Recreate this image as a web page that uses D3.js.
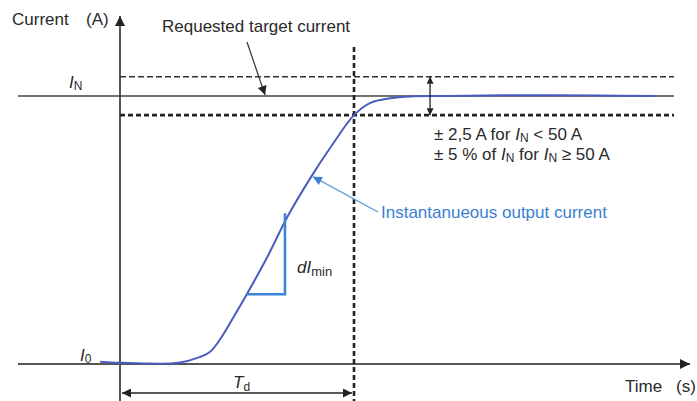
<!DOCTYPE html>
<html>
<head>
<meta charset="utf-8">
<script src="https://cdn.jsdelivr.net/npm/d3@7"></script>
<style>
  body { margin: 0; background: #fff; }
  text { font-family: "Liberation Sans", Arial, sans-serif; fill: #2a2a2a; }
</style>
</head>
<body>
<div id="chart"></div>
<script>
var svgWidth = 697;
var svgHeight = 401;

// step response, time in ms (T_d = 200 ms), current in A
var times = [-17, 0, 25, 50, 68, 77, 85, 97, 108, 126, 143, 164, 180, 200, 214, 231, 248, 282, 342, 410, 457];
var currents = [0.3, 0.15, 0.05, 0.15, 0.9, 1.6, 3.1, 6.1, 9.0, 14.0, 19.2, 24.6, 28.3, 32.5, 34.1, 34.7, 34.95, 35.0, 35.1, 35.05, 35.0];

var iStart = 0;       // I_0
var iTarget = 35;     // I_N
var tolerance = 2.5;  // +/- band
var delayTime = 200;  // T_d

// slope triangle for dI_min
var slopeTimes = [108, 141];
var slopeCurrents = [9.1, 19.7];

var xScale = d3.scaleLinear().domain([0, delayTime]).range([120, 354]);
var yScale = d3.scaleLinear().domain([iStart, iTarget]).range([364, 96]);

var svg = d3.select("#chart")
  .append("svg")
  .attr("width", svgWidth)
  .attr("height", svgHeight);

var defs = svg.append("defs");
function addMarker(id, color, w, h) {
  defs.append("marker")
    .attr("id", id)
    .attr("viewBox", "0 0 10 10")
    .attr("refX", 10)
    .attr("refY", 5)
    .attr("markerUnits", "userSpaceOnUse")
    .attr("markerWidth", w)
    .attr("markerHeight", h)
    .attr("orient", "auto-start-reverse")
    .append("path")
    .attr("d", "M0,0 L10,5 L0,10 Z")
    .attr("fill", color);
}
addMarker("arrowAxis", "#222", 14, 10);
addMarker("arrowBlack", "#222", 13, 9);
addMarker("arrowSmall", "#222", 9, 7);
addMarker("arrowBlue", "#3a7fd0", 13, 9);

var axisColor = "#555";
var xMin = xScale.invert(18), xMax = xScale.invert(690);
var xBandEnd = xScale.invert(674);

// axes
svg.append("line")
  .attr("x1", xScale(xMin)).attr("x2", xScale(xMax))
  .attr("y1", yScale(iStart)).attr("y2", yScale(iStart))
  .attr("stroke", axisColor).attr("stroke-width", 2)
  .attr("marker-end", "url(#arrowAxis)");

svg.append("line")
  .attr("x1", xScale(0)).attr("x2", xScale(0))
  .attr("y1", 401).attr("y2", 16)
  .attr("stroke", axisColor).attr("stroke-width", 2)
  .attr("marker-end", "url(#arrowAxis)");

// target current and tolerance band
svg.append("line")
  .attr("x1", xScale(xMin)).attr("x2", xScale(xBandEnd))
  .attr("y1", yScale(iTarget)).attr("y2", yScale(iTarget))
  .attr("stroke", "#444").attr("stroke-width", 1.4);

svg.append("line")
  .attr("x1", xScale(0)).attr("x2", xScale(xBandEnd))
  .attr("y1", yScale(iTarget + tolerance)).attr("y2", yScale(iTarget + tolerance))
  .attr("stroke", "#333").attr("stroke-width", 1.5)
  .attr("stroke-dasharray", "6,3");

svg.append("line")
  .attr("x1", xScale(0)).attr("x2", xScale(xBandEnd))
  .attr("y1", yScale(iTarget - tolerance)).attr("y2", yScale(iTarget - tolerance))
  .attr("stroke", "#222").attr("stroke-width", 2.6)
  .attr("stroke-dasharray", "5,3");

// T_d vertical
svg.append("line")
  .attr("x1", xScale(delayTime)).attr("x2", xScale(delayTime))
  .attr("y1", 47).attr("y2", 401)
  .attr("stroke", "#222").attr("stroke-width", 2.6)
  .attr("stroke-dasharray", "5,3");

// response curve
var curveData = times.map(function(t, i) { return {t: t, i: currents[i]}; });
var line = d3.line()
  .x(d => xScale(d.t))
  .y(d => yScale(d.i))
  .curve(d3.curveCatmullRom.alpha(0.5));

svg.append("path")
  .datum(curveData)
  .attr("d", line)
  .attr("fill", "none")
  .attr("stroke", "#4a5cc0")
  .attr("stroke-width", 2);

// slope triangle
svg.append("path")
  .attr("d", "M" + xScale(slopeTimes[0]) + "," + yScale(slopeCurrents[0]) +
    " L" + xScale(slopeTimes[1]) + "," + yScale(slopeCurrents[0]) +
    " L" + xScale(slopeTimes[1]) + "," + yScale(slopeCurrents[1]))
  .attr("fill", "none")
  .attr("stroke", "#3d86d6")
  .attr("stroke-width", 2.6);

// tolerance double arrow
var tolX = xScale(265);
svg.append("line")
  .attr("x1", tolX).attr("x2", tolX)
  .attr("y1", yScale(iTarget + tolerance)).attr("y2", yScale(iTarget - tolerance))
  .attr("stroke", "#222").attr("stroke-width", 1.3)
  .attr("marker-start", "url(#arrowSmall)")
  .attr("marker-end", "url(#arrowSmall)");

// T_d double arrow
svg.append("line")
  .attr("x1", xScale(0) + 2).attr("x2", xScale(delayTime) - 2)
  .attr("y1", 393).attr("y2", 393)
  .attr("stroke", "#222").attr("stroke-width", 1.5)
  .attr("marker-start", "url(#arrowBlack)")
  .attr("marker-end", "url(#arrowBlack)");

// requested target pointer
svg.append("line")
  .attr("x1", 247).attr("y1", 42)
  .attr("x2", xScale(124)).attr("y2", yScale(iTarget) - 1)
  .attr("stroke", "#333").attr("stroke-width", 1.2)
  .attr("marker-end", "url(#arrowBlack)");

// instantaneous output pointer
svg.append("line")
  .attr("x1", 378).attr("y1", 212)
  .attr("x2", xScale(164) + 1).attr("y2", yScale(24.6) + 1)
  .attr("stroke", "#5b9bd5").attr("stroke-width", 1.2)
  .attr("marker-end", "url(#arrowBlue)");

// labels
function label(x, y, size, color) {
  return svg.append("text")
    .attr("x", x).attr("y", y)
    .attr("font-size", size)
    .style("fill", color || "#2a2a2a");
}

label(12, 25, 17).text("Current");
label(86, 25, 17).text("(A)");
label(625, 392, 17).text("Time");
label(676, 392, 17).text("(s)");
label(162, 32, 17).text("Requested target current");

var tIN = label(69, 88, 17);
tIN.append("tspan").attr("font-style", "italic").text("I");
tIN.append("tspan").attr("font-size", 12).attr("dy", 2).text("N");

var tI0 = label(80, 361, 17);
tI0.append("tspan").attr("font-style", "italic").text("I");
tI0.append("tspan").attr("font-size", 12).attr("dy", 2).text("0");

var tTd = label(233, 388, 17);
tTd.append("tspan").attr("font-style", "italic").text("T");
tTd.append("tspan").attr("font-size", 12).attr("dy", 3).text("d");

var tdI = label(297, 273, 17);
tdI.append("tspan").attr("font-style", "italic").text("dI");
tdI.append("tspan").attr("font-size", 13).attr("dy", 3).text("min");

var tol1 = label(434, 140, 17);
tol1.append("tspan").text("± 2,5 A for ");
tol1.append("tspan").attr("font-style", "italic").text("I");
tol1.append("tspan").attr("font-size", 12).attr("dy", 2).text("N");
tol1.append("tspan").attr("dy", -2).text(" < 50 A");

var tol2 = label(434, 160, 17);
tol2.append("tspan").text("± 5 % of ");
tol2.append("tspan").attr("font-style", "italic").text("I");
tol2.append("tspan").attr("font-size", 12).attr("dy", 2).text("N");
tol2.append("tspan").attr("dy", -2).text(" for ");
tol2.append("tspan").attr("font-style", "italic").text("I");
tol2.append("tspan").attr("font-size", 12).attr("dy", 2).text("N");
tol2.append("tspan").attr("dy", -2).text(" ≥ 50 A");

label(381, 218, 17, "#3a7fd0").text("Instantanueous output current");
</script>
</body>
</html>
